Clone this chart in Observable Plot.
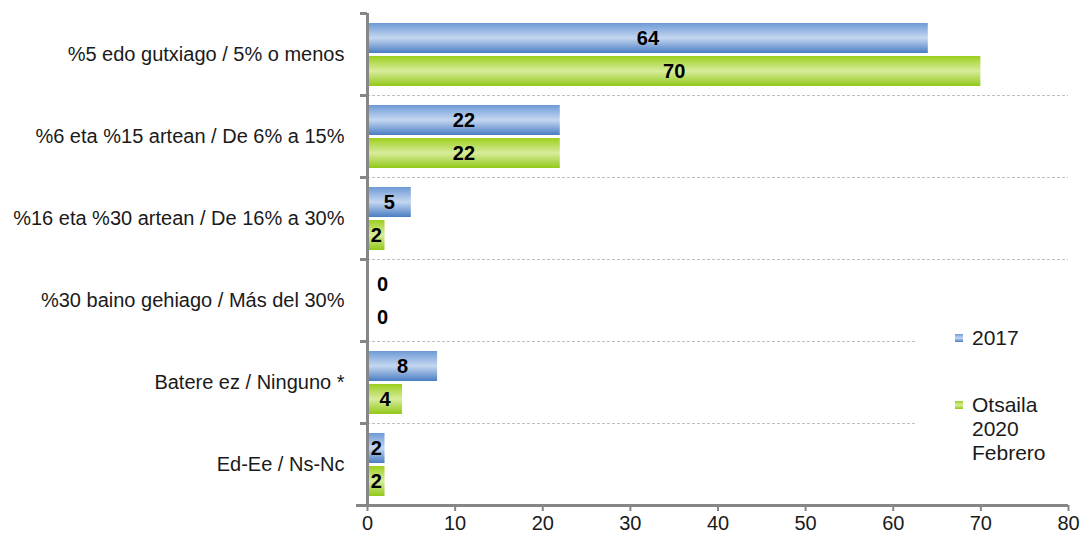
<!DOCTYPE html>
<html>
<head>
<meta charset="utf-8">
<script src="https://cdn.jsdelivr.net/npm/d3@7"></script>
<script src="https://cdn.jsdelivr.net/npm/@observablehq/plot@0.6"></script>
<style>
  html, body { margin: 0; padding: 0; background: #fff; }
  #wrap { position: relative; width: 1082px; height: 535px; font-family: "Liberation Sans", Arial, sans-serif; }
  #legend { position: absolute; left: 917px; top: 300px; width: 160px; height: 178px; background: #fff; color: #1a1a1a; font-size: 21px; line-height: 24px; }
  .sw { position: absolute; width: 8px; height: 8px; }
  .lt { position: absolute; white-space: nowrap; }
</style>
</head>
<body>
<div id="wrap"></div>
<script>
const categories = [
  "%5 edo gutxiago / 5% o menos",
  "%6 eta %15 artean / De 6% a 15%",
  "%16 eta %30 artean / De 16% a 30%",
  "%30 baino gehiago / Más del 30%",
  "Batere ez / Ninguno *",
  "Ed-Ee / Ns-Nc"
];
const values2017 = [64, 22, 5, 0, 8, 2];
const values2020 = [70, 22, 2, 0, 4, 2];
const seriesNames = ["2017", "Otsaila\n2020\nFebrero"];
const xTicks = [0, 10, 20, 30, 40, 50, 60, 70, 80];

const rows = [];
categories.forEach((c, i) => {
  rows.push({category: c, series: seriesNames[0], value: values2017[i]});
  rows.push({category: c, series: seriesNames[1], value: values2020[i]});
});
const s1 = rows.filter(d => d.series === seriesNames[0]);
const s2 = rows.filter(d => d.series === seriesNames[1]);

const gray = "#868686";
const font = "\"Liberation Sans\", Arial, sans-serif";

const labelMarks = (data, dy) => [
  Plot.text(data.filter(d => d.value > 0), {x: d => d.value / 2, y: "category", text: d => String(d.value), dy, fontSize: 20, fontWeight: "bold", fill: "#000"}),
  Plot.text(data.filter(d => d.value === 0), {x: "value", y: "category", text: d => String(d.value), dy, dx: 15, fontSize: 20, fontWeight: "bold", fill: "#000"})
];

const chart = Plot.plot({
  width: 1082,
  height: 535,
  marginLeft: 367,
  marginRight: 14,
  marginTop: 13,
  marginBottom: 30,
  style: {fontFamily: font, background: "#fff", overflow: "visible"},
  x: {domain: [0, 80]},
  y: {domain: categories, padding: 0},
  marks: [
    // dashed separators between rows
    Plot.ruleY(categories.slice(1), {y: d => d, dy: -41, stroke: "#bfbfbf", strokeDasharray: "3,2", strokeWidth: 1}),
    Plot.barX(s1, {x: "value", y: "category", fill: "url(#gradBlue)", insetTop: 10, insetBottom: 42}),
    Plot.barX(s2, {x: "value", y: "category", fill: "url(#gradGreen)", insetTop: 43, insetBottom: 9}),
    ...labelMarks(s1, -16),
    ...labelMarks(s2, 17),
    // category labels
    Plot.axisY({tickSize: 0, tickPadding: 23, fontSize: 20, fill: "#1a1a1a", label: null}),
    // y axis line
    Plot.ruleX([0], {stroke: gray, strokeWidth: 3}),
    // y axis ticks at row boundaries
    Plot.ruleY(categories, {y: d => d, dy: -41, x1: 0, x2: 0, insetLeft: -7, stroke: gray, strokeWidth: 3}),
    Plot.ruleY(categories.slice(-1), {y: d => d, dy: 41, x1: 0, x2: 80, insetLeft: -11, stroke: gray, strokeWidth: 3}),
    // x axis
    Plot.axisX({ticks: xTicks, tickSize: 6, tickPadding: 4, stroke: gray, strokeWidth: 2, fill: "#1a1a1a", fontSize: 20, label: null})
  ]
});

const svg = d3.select(chart);
const defs = svg.insert("defs", ":first-child");
function grad(id, top, mid, bottom) {
  const g = defs.append("linearGradient").attr("id", id).attr("x1", 0).attr("y1", 0).attr("x2", 0).attr("y2", 1);
  g.append("stop").attr("offset", "0%").attr("stop-color", top);
  g.append("stop").attr("offset", "50%").attr("stop-color", mid);
  g.append("stop").attr("offset", "100%").attr("stop-color", bottom);
}
grad("gradBlue", "#6e9ad6", "#c4d7f0", "#4a7dc3");
grad("gradGreen", "#9ccf1e", "#d8ec9c", "#92c819");

const wrap = document.getElementById("wrap");
wrap.appendChild(chart);

const legend = document.createElement("div");
legend.id = "legend";
const items = [
  {name: seriesNames[0], bg: "linear-gradient(#6e9ad6, #c4d7f0, #4a7dc3)", top: 26},
  {name: seriesNames[1], bg: "linear-gradient(#9ccf1e, #d8ec9c, #92c819)", top: 93}
];
items.forEach(it => {
  const sw = document.createElement("div");
  sw.className = "sw";
  sw.style.left = "38px";
  sw.style.top = (it.top + 8) + "px";
  sw.style.background = it.bg;
  legend.appendChild(sw);
  const t = document.createElement("div");
  t.className = "lt";
  t.style.left = "55px";
  t.style.top = it.top + "px";
  t.innerHTML = it.name.split("\n").join("<br>");
  legend.appendChild(t);
});
wrap.appendChild(legend);
</script>
</body>
</html>
